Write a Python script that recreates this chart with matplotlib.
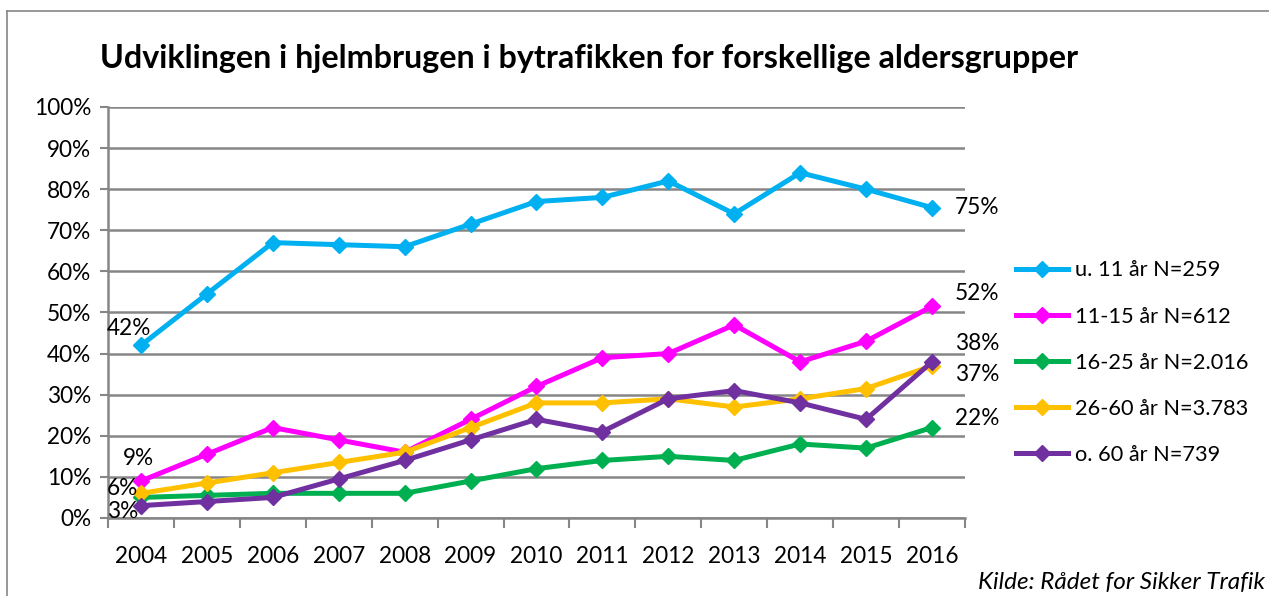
import numpy as np
import matplotlib.pyplot as plt
from matplotlib.lines import Line2D

plt.rcParams['font.family'] = ['Lato', 'DejaVu Sans']

years = ['2004', '2005', '2006', '2007', '2008', '2009', '2010',
         '2011', '2012', '2013', '2014', '2015', '2016']

u11 = [42, 54.5, 67, 66.5, 66, 71.5, 77, 78, 82, 74, 84, 80, 75.5]
a11_15 = [9, 15.5, 22, 19, 16, 24, 32, 39, 40, 47, 38, 43, 51.5]
a16_25 = [5, 5.5, 6, 6, 6, 9, 12, 14, 15, 14, 18, 17, 22]
a26_60 = [6, 8.5, 11, 13.5, 16, 22, 28, 28, 29, 27, 29, 31.5, 37]
o60 = [3, 4, 5, 9.5, 14, 19, 24, 21, 29, 31, 28, 24, 38]

series_names = ['u. 11 år N=259', '11-15 år N=612', '16-25 år N=2.016',
                '26-60 år N=3.783', 'o. 60 år N=739']
colors = ['#00B0F0', '#FF00FF', '#00B050', '#FFC000', '#7030A0']

# labels shown at the first and last point
start_labels = ['42%', '9%', None, '6%', '3%']
end_labels = ['75%', '52%', '22%', '37%', '38%']

fs = 16.3

fig = plt.figure(figsize=(12.69, 5.96), dpi=100)
ax = fig.add_axes([0.0851, 0.1309, 0.6753, 0.6896])

x = np.arange(len(years))
all_series = [u11, a11_15, a16_25, a26_60, o60]
for vals, name, c in zip(all_series, series_names, colors):
    ax.plot(x, vals, color=c, lw=3.6, marker='D', markersize=8,
            label=name, solid_joinstyle='miter')

ax.set_xlim(-0.5, len(years) - 0.5)
ax.set_ylim(0, 100)
ax.set_yticks(np.arange(0, 101, 10))
ax.set_yticklabels([f'{v}%' for v in range(0, 101, 10)], fontsize=fs)
ax.set_xticks(x)
ax.set_xticklabels(years, fontsize=fs)
ax.set_xticks(np.arange(-0.5, len(years), 1), minor=True)
ax.tick_params(axis='x', which='major', length=0, pad=20)
ax.tick_params(axis='x', which='minor', length=7, width=1.5, color='#868686')
ax.tick_params(axis='y', length=6, width=1.5, color='#868686', pad=6)

ax.grid(axis='y', color='#868686', lw=1.8)
ax.set_axisbelow(True)
for s in ['top', 'right']:
    ax.spines[s].set_visible(False)
for s in ['left', 'bottom']:
    ax.spines[s].set_color('#868686')
    ax.spines[s].set_linewidth(1.8)

# data labels
start_pos = {'42%': (-0.52, 46), '9%': (-0.28, 14.5), '6%': (-0.52, 7.2), '3%': (-0.52, 1.5)}
for lab in start_labels:
    if lab:
        px, py = start_pos[lab]
        ax.text(px, py, lab, fontsize=fs, ha='left', va='center')
end_pos = [75.5, 54.5, 24.2, 35, 42.5]
for lab, py in zip(end_labels, end_pos):
    ax.text(12.35, py, lab, fontsize=fs, ha='left', va='center')

# legend
handles = [Line2D([0], [0], color=c, lw=3.6, marker='D', markersize=8)
           for c in colors]
fig.legend(handles, series_names, loc='upper left',
           bbox_to_anchor=(0.785, 0.596), frameon=False, fontsize=15.7,
           handlelength=2.4, labelspacing=1.2, handletextpad=0.3)

fig.text(0.079, 0.902, 'Udviklingen i hjelmbrugen i bytrafikken for forskellige aldersgrupper',
         fontsize=23.2, fontweight='bold', ha='left', va='center')
fig.text(0.997, 0.022, 'Kilde: Rådet for Sikker Trafik', fontsize=17.5,
         style='italic', ha='right', va='center')

# outer chart frame
fig.add_artist(Line2D([7 / 1269, 7 / 1269], [0, 1 - 11 / 596],
                      transform=fig.transFigure, color='#868686', lw=1.2))
fig.add_artist(Line2D([7 / 1269, 1], [1 - 11 / 596, 1 - 11 / 596],
                      transform=fig.transFigure, color='#868686', lw=1.2))

fig.savefig('out.png', dpi=100)
